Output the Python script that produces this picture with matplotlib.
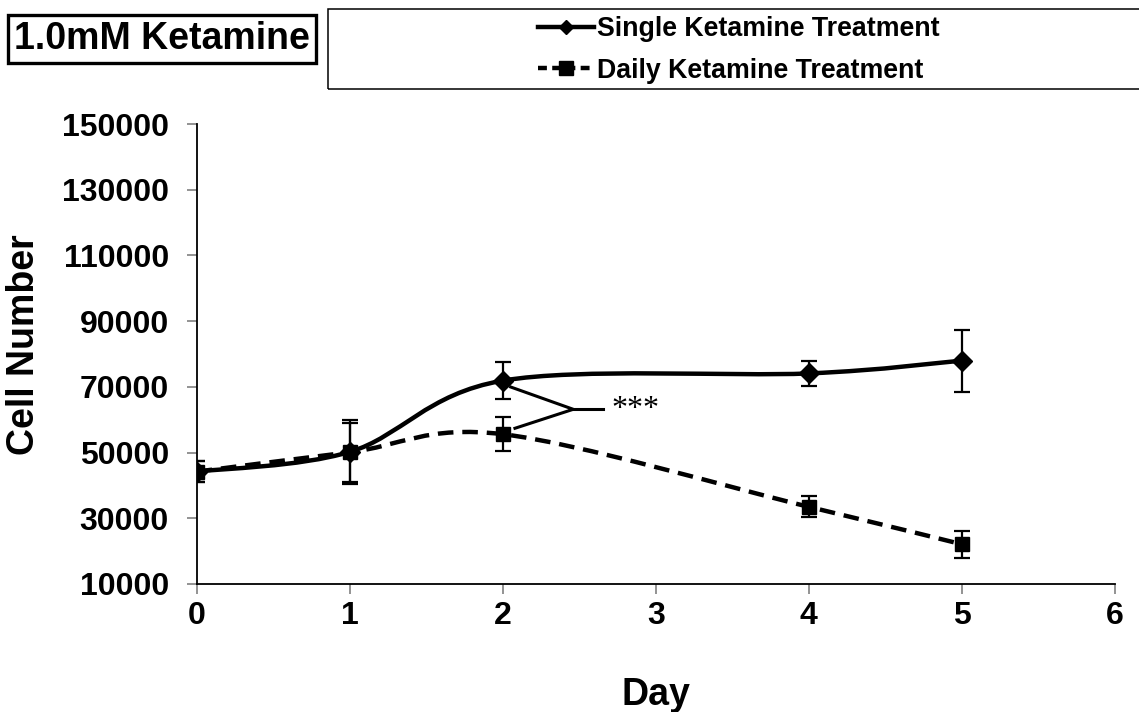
import matplotlib as mpl
mpl.use("Agg")
import matplotlib.pyplot as plt
from matplotlib.path import Path
from matplotlib.patches import PathPatch, Rectangle
from matplotlib.lines import Line2D
import numpy as np

plt.rcParams['font.family'] = ['Liberation Sans', 'DejaVu Sans']
plt.rcParams['font.weight'] = 'bold'

days = [0, 1, 2, 4, 5]
single_mean = [44200, 50200, 71900, 74100, 78000]
single_err = [3100, 9700, 5700, 3700, 9450]
daily_mean = [44200, 50100, 55600, 33500, 22100]
daily_err = [3100, 9000, 5200, 3200, 4050]

x_ticks = [0, 1, 2, 3, 4, 5, 6]
y_ticks = [10000, 30000, 50000, 70000, 90000, 110000, 130000, 150000]


def smooth_path(xs, ys):
    # Excel-style smoothed line: cubic Bezier segments (Catmull-Rom tangents)
    p = np.column_stack([xs, ys]).astype(float)
    n = len(p)
    verts = [p[0]]
    codes = [Path.MOVETO]
    for i in range(n - 1):
        p0 = p[i - 1] if i > 0 else p[i]
        p3 = p[i + 2] if i + 2 < n else p[i + 1]
        c1 = p[i] + (p[i + 1] - p0) / 6
        c2 = p[i + 1] - (p3 - p[i]) / 6
        verts += [c1, c2, p[i + 1]]
        codes += [Path.CURVE4] * 3
    return Path(verts, codes)


fig = plt.figure(figsize=(11.39, 7.12), dpi=100)
ax = fig.add_axes([0.1727, 0.1798, 0.806, 0.6459])

ax.add_patch(PathPatch(smooth_path(days, single_mean), fill=False, lw=3.2,
                       ec='black', capstyle='butt'))
ax.add_patch(PathPatch(smooth_path(days, daily_mean), fill=False, lw=3.2,
                       ec='black', linestyle=(0, (3.5, 2.0))))

ax.errorbar(days, single_mean, yerr=single_err, fmt='D', color='black', ms=10,
            elinewidth=1.6, capsize=6, capthick=1.6)
ax.errorbar(days, daily_mean, yerr=daily_err, fmt='s', color='black', ms=10,
            elinewidth=1.6, capsize=6, capthick=1.6)

# significance bracket
ax.plot([2.052, 2.461, 2.08], [69970, 63180, 57400], color='black', lw=2.2,
        solid_joinstyle='miter')
ax.plot([2.461, 2.654], [63180, 63180], color='black', lw=2.2)
ax.text(2.71, 63000, '***', family='Liberation Serif', fontweight='normal',
        fontsize=23, va='center', ha='left')

ax.set_xlim(0, 6)
ax.set_ylim(10000, 150000)
ax.set_xticks(x_ticks)
ax.set_yticks(y_ticks)
ax.tick_params(axis='both', direction='out', length=7, width=1.2,
               color='#808080', labelsize=23)
ax.tick_params(axis='y', pad=13)
ax.tick_params(axis='x', pad=5)
for s in ['top', 'right']:
    ax.spines[s].set_visible(False)
for s in ['left', 'bottom']:
    ax.spines[s].set_linewidth(1.3)

ax.set_xlabel('Day', fontsize=27, fontweight='bold')
ax.set_ylabel('Cell Number', fontsize=27, fontweight='bold')
ax.xaxis.set_label_coords(0.5, -0.202)
ax.yaxis.set_label_coords(-0.168, 0.52)

# title box
fig.text(162 / 1139, 1 - 39 / 712, '1.0mM Ketamine', fontsize=27,
         fontweight='bold', ha='center', va='center',
         bbox=dict(boxstyle='square,pad=0.15', fc='white', ec='black', lw=2.4))

# legend box
fig.patches.append(Rectangle((328 / 1139, 1 - 89 / 712), 0.75, 80 / 712,
                             transform=fig.transFigure, fill=False,
                             ec='black', lw=1.1))
handles = [
    Line2D([], [], color='black', lw=3.2, marker='D', ms=7),
    Line2D([], [], color='black', lw=3.2, marker='s', ms=10,
           linestyle=(0, (2.0, 1.2))),
]
fig.legend(handles, ['Single Ketamine Treatment', 'Daily Ketamine Treatment'],
           loc='center left', bbox_to_anchor=(538 / 1139, 1 - 50 / 712),
           frameon=False, handlelength=2.1, handletextpad=0.1,
           labelspacing=0.58, borderpad=0, borderaxespad=0,
           prop={'weight': 'bold', 'size': 19.3})

fig.savefig('out.png', dpi=100)
